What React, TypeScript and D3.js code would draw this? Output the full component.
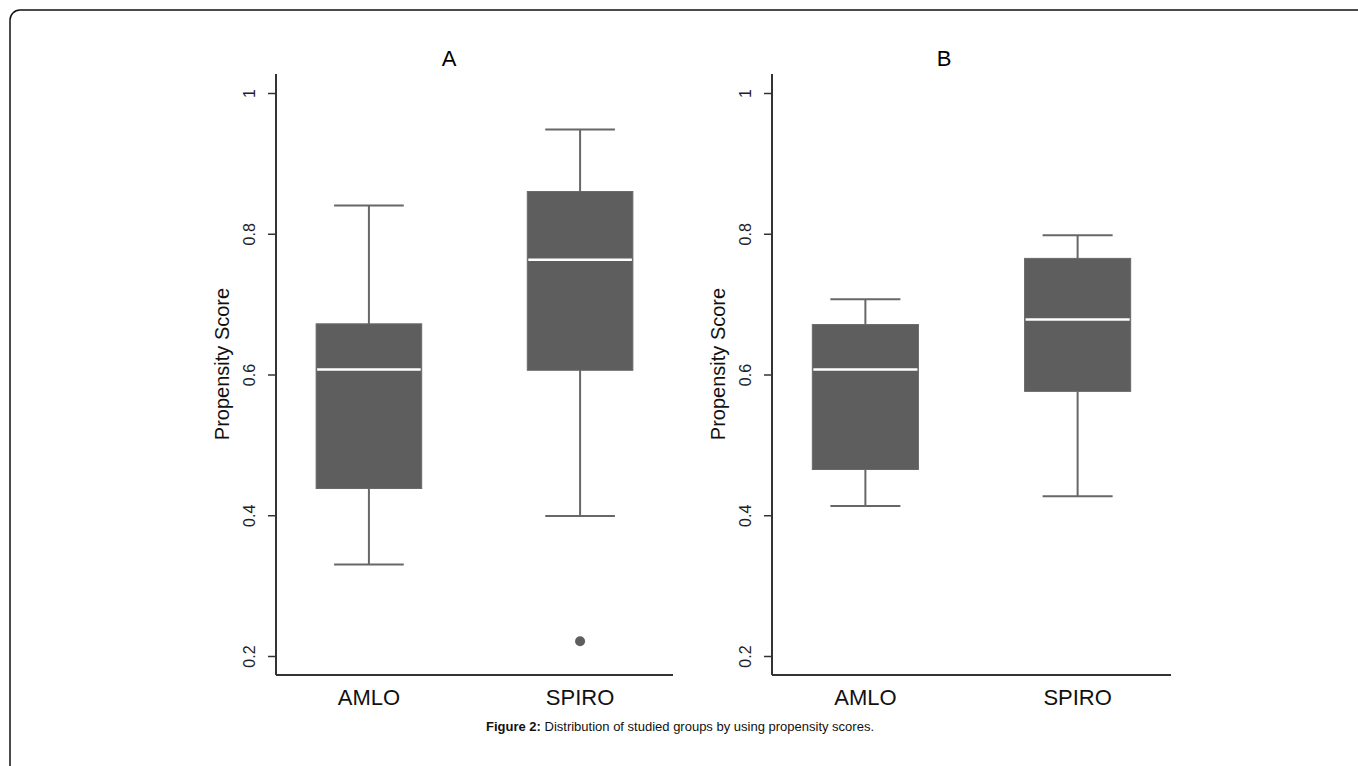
import React, { useEffect, useRef } from 'react';
import * as d3 from 'd3';

// panels and groups
const panels = ['A', 'B'];
const groups = ['AMLO', 'SPIRO'];
const yTicks = [0.2, 0.4, 0.6, 0.8, 1];

// box stats per panel, in group order
const whiskerLow = [[0.33, 0.399], [0.413, 0.427]];
const q1 = [[0.438, 0.606], [0.465, 0.576]];
const median = [[0.607, 0.763], [0.607, 0.678]];
const q3 = [[0.672, 0.86], [0.671, 0.765]];
const whiskerHigh = [[0.84, 0.948], [0.707, 0.798]];
// outliers per panel: [group, value]
const outliers: [string, number][][] = [[['SPIRO', 0.221]], []];

const FONT = '"Liberation Sans", Arial, sans-serif';

const App = () => {
    const ref = useRef<SVGSVGElement>(null);

    useEffect(() => {
        const width = 1358;
        const height = 766;
        const svg = d3.select(ref.current)
            .attr('width', width)
            .attr('height', height);
        svg.selectAll('*').remove();

        svg.append('rect')
            .attr('width', width).attr('height', height).attr('fill', '#fff');

        // frame, only top and left edges are inside the picture
        svg.append('rect')
            .attr('x', 10).attr('y', 10)
            .attr('width', 2000).attr('height', 2000)
            .attr('rx', 10)
            .attr('fill', 'none')
            .attr('stroke', '#111')
            .attr('stroke-width', 1.5);

        const yScale = d3.scaleLinear()
            .domain([0.2, 1])
            .range([656, 93]);

        const axisLeft = [276, 772];
        const axisRight = [673, 1171];
        const titleX = [449, 944];
        const yTop = 74;
        const yBottom = 675;

        panels.forEach((p, i) => {
            const g = svg.append('g');
            const xScale = d3.scalePoint<string>()
                .domain(groups)
                .range([axisLeft[i], axisRight[i]])
                .padding(0.44);

            const step = xScale.step();
            const boxW = step * 0.5;
            const capW = step * 0.33;

            // title
            g.append('text')
                .attr('x', titleX[i]).attr('y', 66)
                .attr('text-anchor', 'middle')
                .attr('font-family', FONT)
                .attr('font-size', 22)
                .text(p);

            // y axis
            const ya = g.append('g')
                .attr('transform', `translate(${axisLeft[i]},0)`)
                .call(d3.axisLeft(yScale).tickValues(yTicks).tickSize(8).tickFormat(d => String(d)));
            ya.select('.domain').remove();
            ya.selectAll('.tick line').attr('stroke', '#333').attr('stroke-width', 1.5);
            ya.selectAll('.tick text')
                .attr('transform', 'rotate(-90)')
                .attr('x', 0).attr('y', -21).attr('dy', 0)
                .attr('text-anchor', 'middle')
                .attr('font-family', FONT)
                .attr('font-size', 16)
                .attr('fill', '#222');
            g.append('line')
                .attr('x1', axisLeft[i]).attr('x2', axisLeft[i])
                .attr('y1', yTop).attr('y2', yBottom)
                .attr('stroke', '#333').attr('stroke-width', 2);

            // x axis
            g.append('line')
                .attr('x1', axisLeft[i]).attr('x2', axisRight[i])
                .attr('y1', yBottom).attr('y2', yBottom)
                .attr('stroke', '#333').attr('stroke-width', 2);
            groups.forEach(name => {
                g.append('text')
                    .attr('x', xScale(name)!).attr('y', 705)
                    .attr('text-anchor', 'middle')
                    .attr('font-family', FONT)
                    .attr('font-size', 22)
                    .attr('fill', '#111')
                    .text(name);
            });

            // y label
            g.append('text')
                .attr('transform', `translate(${axisLeft[i] - 47},364) rotate(-90)`)
                .attr('text-anchor', 'middle')
                .attr('font-family', FONT)
                .attr('font-size', 20)
                .attr('fill', '#111')
                .text('Propensity Score');

            // boxes
            groups.forEach((name, j) => {
                const cx = xScale(name)!;
                const wc = '#676767';
                g.append('line')
                    .attr('x1', cx).attr('x2', cx)
                    .attr('y1', yScale(whiskerHigh[i][j])).attr('y2', yScale(whiskerLow[i][j]))
                    .attr('stroke', wc).attr('stroke-width', 2);
                [whiskerLow[i][j], whiskerHigh[i][j]].forEach(v => {
                    g.append('line')
                        .attr('x1', cx - capW / 2).attr('x2', cx + capW / 2)
                        .attr('y1', yScale(v)).attr('y2', yScale(v))
                        .attr('stroke', wc).attr('stroke-width', 2);
                });
                g.append('rect')
                    .attr('x', cx - boxW / 2)
                    .attr('y', yScale(q3[i][j]))
                    .attr('width', boxW)
                    .attr('height', yScale(q1[i][j]) - yScale(q3[i][j]))
                    .attr('fill', '#5e5e5e')
                    .attr('stroke', '#6a6a6a')
                    .attr('stroke-width', 1);
                g.append('line')
                    .attr('x1', cx - boxW / 2 + 1).attr('x2', cx + boxW / 2 - 1)
                    .attr('y1', yScale(median[i][j])).attr('y2', yScale(median[i][j]))
                    .attr('stroke', '#fff').attr('stroke-width', 2.5);
            });

            outliers[i].forEach(([name, v]) => {
                g.append('circle')
                    .attr('cx', xScale(name)!).attr('cy', yScale(v))
                    .attr('r', 5)
                    .attr('fill', '#5e5e5e');
            });
        });

        // caption
        const cap = svg.append('text')
            .attr('x', 680).attr('y', 731)
            .attr('text-anchor', 'middle')
            .attr('font-family', FONT)
            .attr('font-size', 13)
            .attr('fill', '#111');
        cap.append('tspan').attr('font-weight', 'bold').text('Figure 2:');
        cap.append('tspan').text(' Distribution of studied groups by using propensity scores.');
    }, []);

    return <svg ref={ref} style={{ position: 'absolute', left: 0, top: 0 }}></svg>;
};

export default App;
